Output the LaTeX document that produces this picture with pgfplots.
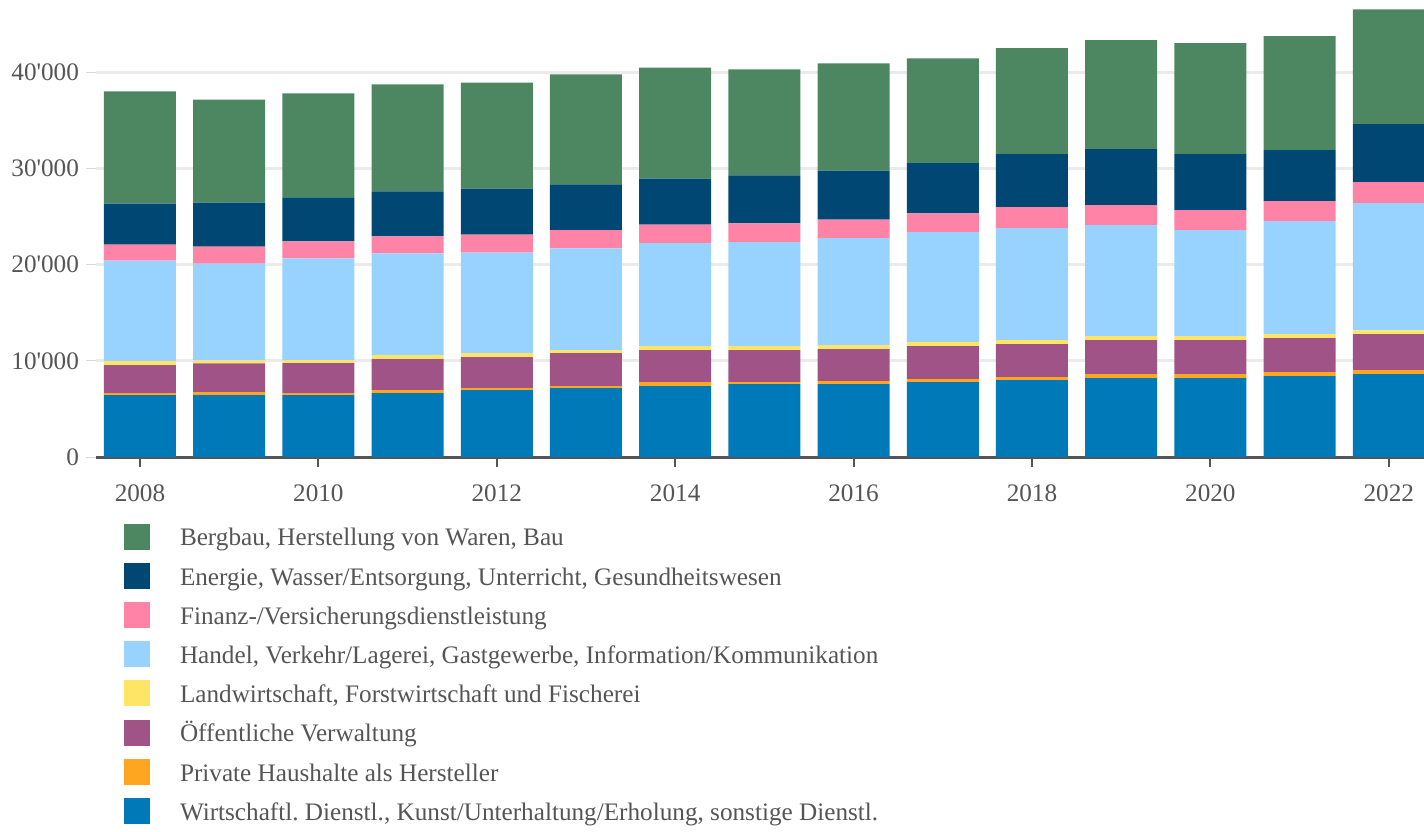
\documentclass[border=0pt]{standalone}
\usepackage{pgfplots}
\pgfplotsset{compat=1.18}
\usepackage{pgfplotstable}
\usepackage{fontspec}
\setmainfont{Liberation Serif}
\frenchspacing
\definecolor{cGreen}{HTML}{4C8762}
\definecolor{cNavy}{HTML}{004774}
\definecolor{cPink}{HTML}{FF82A7}
\definecolor{cLBlue}{HTML}{97D3FE}
\definecolor{cYellow}{HTML}{FFE566}
\definecolor{cPurple}{HTML}{A05386}
\definecolor{cOrange}{HTML}{FFA620}
\definecolor{cBlue}{HTML}{0079B8}
\definecolor{cAxis}{HTML}{555555}
\definecolor{cText}{HTML}{555555}
\definecolor{cGrid}{HTML}{EBEBEB}
\definecolor{cTick}{HTML}{D8D8D8}
\pgfplotstableread{
year blue orange purple yellow lblue pink navy green
2008 6440 210 2910 415 10460 1660 4260 11640
2009 6440 310 3010 310 10050 1770 4570 10700
2010 6440 210 3120 310 10570 1770 4570 10800
2011 6650 310 3220 415 10570 1770 4680 11120
2012 6960 210 3220 415 10460 1870 4780 11010
2013 7170 210 3430 310 10570 1900 4750 11430
2014 7380 415 3320 415 10700 1940 4780 11530
2015 7590 210 3320 415 10810 1940 4990 11010
2016 7590 310 3320 415 11120 1940 5090 11120
2017 7790 310 3430 415 11430 1970 5200 10880
2018 8000 310 3430 415 11640 2180 5510 11010
2019 8210 415 3530 415 11530 2080 5820 11330
2020 8210 415 3530 415 11010 2080 5820 11530
2021 8420 415 3530 415 11740 2080 5300 11850
2022 8620 415 3740 415 13200 2180 6030 11920
}\data
\newcommand{\fs}{\fontsize{12.6}{14}\selectfont\frenchspacing}
\begin{document}
\begin{tikzpicture}
\begin{axis}[name=ax,
  scale only axis, width=664pt, height=228.6pt,
  ybar stacked, bar width=36pt,
  xmin=2007.507, xmax=2022.395, ymin=0, ymax=47500,
  axis x line=bottom, axis y line=left,
  x axis line style={-, draw=cAxis, line width=1.3pt},
  y axis line style={draw=none},
  xtick={2008,2010,...,2022},
  xticklabels={2008,2010,2012,2014,2016,2018,2020,2022},
  ytick={0,10000,20000,30000,40000},
  yticklabels={0,10\textquotesingle000,20\textquotesingle000,30\textquotesingle000,40\textquotesingle000},
  tick align=outside, major tick length=5pt,
  xtick style={draw=cAxis, line width=1pt},
  ytick style={draw=cTick, line width=0.5pt},
  ymajorgrids, major grid style={draw=cGrid, line width=1.5pt},
  tick label style={font=\fs, text=cText},
  xticklabel style={yshift=-5pt},
  reverse legend,
  legend cell align=left,
  legend style={draw=none, fill=none, inner sep=0pt, outer sep=0pt,
    at={(0,0)}, anchor=north west, xshift=14pt, yshift=-33.2pt,
    font=\fs, text=cText, row sep=6pt,
    nodes={inner sep=0pt, text height=11pt, text depth=2.5pt},
    /tikz/every odd column/.append style={column sep=15pt}},
  leg/.style={legend image code/.code={\fill[##1] (0pt,-6.15pt) rectangle (13pt,6.85pt);}},
]
\addplot[fill=cBlue, draw=none, leg] table[x=year, y=blue] {\data};
\addlegendentry{Wirtschaftl. Dienstl., Kunst/Unterhaltung/Erholung, sonstige Dienstl.}
\addplot[fill=cOrange, draw=none, leg] table[x=year, y=orange] {\data};
\addlegendentry{Private Haushalte als Hersteller}
\addplot[fill=cPurple, draw=none, leg] table[x=year, y=purple] {\data};
\addlegendentry{Öffentliche Verwaltung}
\addplot[fill=cYellow, draw=none, leg] table[x=year, y=yellow] {\data};
\addlegendentry{Landwirtschaft, Forstwirtschaft und Fischerei}
\addplot[fill=cLBlue, draw=none, leg] table[x=year, y=lblue] {\data};
\addlegendentry{Handel, Verkehr/Lagerei, Gastgewerbe, Information/Kommunikation}
\addplot[fill=cPink, draw=none, leg] table[x=year, y=pink] {\data};
\addlegendentry{Finanz-/Versicherungsdienstleistung}
\addplot[fill=cNavy, draw=none, leg] table[x=year, y=navy] {\data};
\addlegendentry{Energie, Wasser/Entsorgung, Unterricht, Gesundheitswesen}
\addplot[fill=cGreen, draw=none, leg] table[x=year, y=green] {\data};
\addlegendentry{Bergbau, Herstellung von Waren, Bau}
\end{axis}
\pgfresetboundingbox
\path[use as bounding box] ([xshift=-48pt, yshift=-186.9pt]ax.south west) rectangle (ax.north east);
\end{tikzpicture}
\end{document}
